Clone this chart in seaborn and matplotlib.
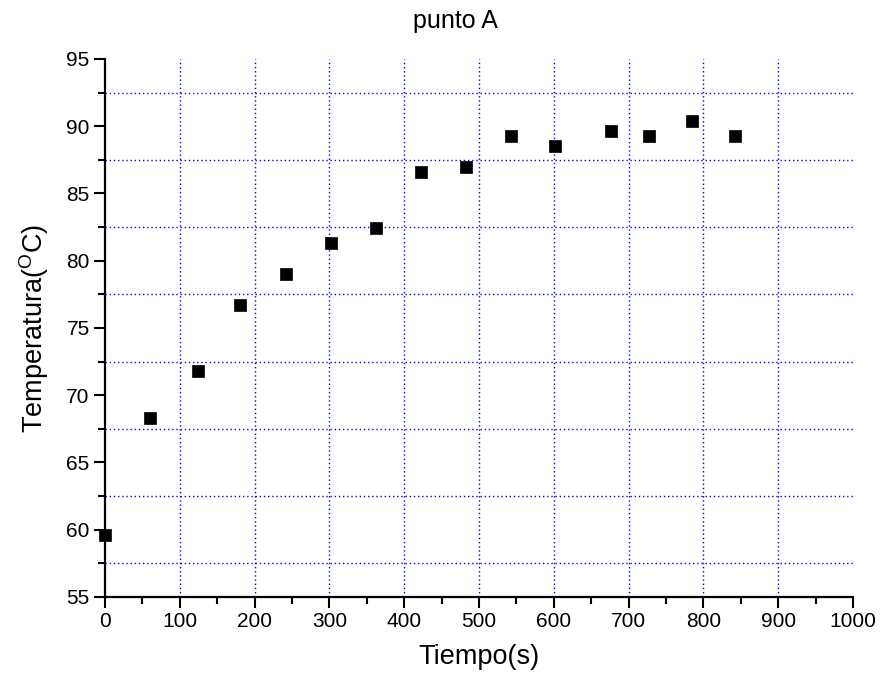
import matplotlib
matplotlib.use('Agg')
import matplotlib.pyplot as plt
import seaborn as sns
import pandas as pd
import numpy as np
from matplotlib.ticker import MultipleLocator

sns.set_style("ticks")
plt.rcParams['font.family'] = ['Liberation Sans', 'DejaVu Sans']
plt.rcParams['mathtext.fontset'] = 'custom'
plt.rcParams['mathtext.rm'] = 'Liberation Sans'
plt.rcParams['text.color'] = 'black'
plt.rcParams['axes.labelcolor'] = 'black'
plt.rcParams['xtick.color'] = 'black'
plt.rcParams['ytick.color'] = 'black'
plt.rcParams['axes.edgecolor'] = 'black'

# data
tiempo = [0, 60, 124, 180, 242, 302, 362, 422, 482, 543, 601, 677, 727, 785, 842]
temperatura = [59.6, 68.3, 71.8, 76.7, 79.0, 81.3, 82.4, 86.6, 87.0, 89.3, 88.5, 89.65, 89.3, 90.4, 89.3]

df = pd.DataFrame({'Tiempo': tiempo, 'Temperatura': temperatura})

fig = plt.figure(figsize=(8.84, 6.85), dpi=100)
ax = fig.add_axes([0.1188, 0.1285, 0.8462, 0.7854])

# grid: vertical at major x ticks, horizontal at minor y ticks
for xv in range(100, 1000, 100):
    ax.axvline(xv, color='blue', linestyle=(0, (1, 2)), linewidth=1.0, zorder=1)
for yv in np.arange(57.5, 95, 5):
    ax.axhline(yv, color='blue', linestyle=(0, (1, 2)), linewidth=1.0, zorder=1)

sns.scatterplot(data=df, x='Tiempo', y='Temperatura', marker='s', s=80,
                color='black', edgecolor='black', linewidth=0.5, ax=ax, zorder=3,
                clip_on=False)

ax.set_xlim(0, 1000)
ax.set_ylim(55, 95)
ax.xaxis.set_major_locator(MultipleLocator(100))
ax.xaxis.set_minor_locator(MultipleLocator(50))
ax.yaxis.set_major_locator(MultipleLocator(5))
ax.yaxis.set_minor_locator(MultipleLocator(2.5))

for s in ['top', 'right']:
    ax.spines[s].set_visible(False)
for s in ['left', 'bottom']:
    ax.spines[s].set_linewidth(1.6)

ax.tick_params(which='major', direction='out', length=8, width=1.5, labelsize=15, pad=3)
ax.tick_params(which='minor', direction='out', length=5, width=1.5)

ax.set_xlabel('Tiempo(s)', fontsize=19.5, labelpad=9)
ax.set_ylabel('Temperatura($^{\\mathrm{O}}$C)', fontsize=19.5, labelpad=11)
ax.set_title('punto A', fontsize=18, pad=22, x=0.468)

fig.savefig('out.png', dpi=100, facecolor='white')
